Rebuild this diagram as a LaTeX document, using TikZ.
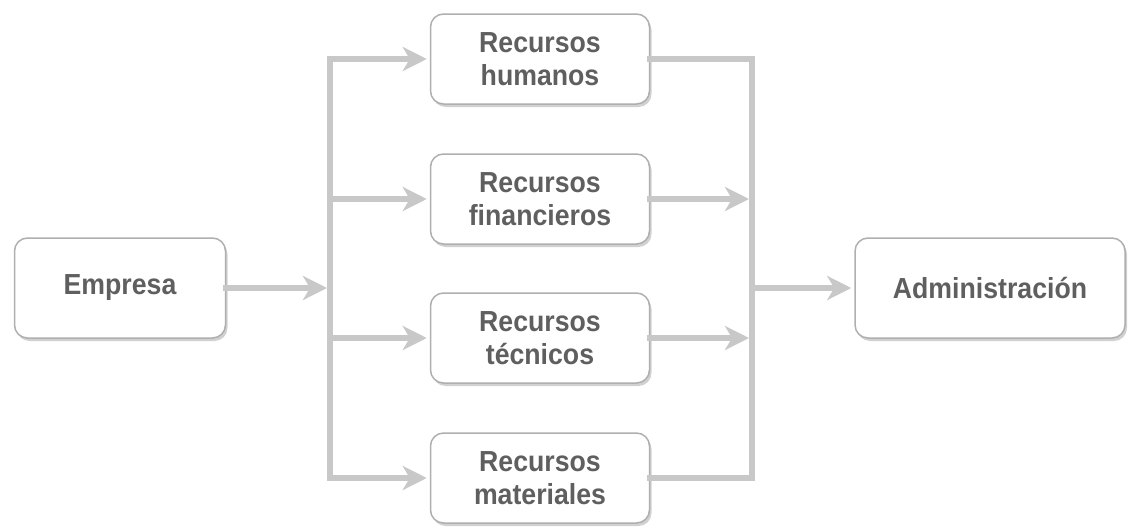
\documentclass[tikz,border=0pt]{standalone}
\usepackage{fontspec}
\usetikzlibrary{arrows.meta,shadows}
\newfontfamily\lblfont[FakeStretch=0.92]{Liberation Sans}
\definecolor{linegray}{RGB}{200,200,200}
\definecolor{boxgray}{RGB}{175,175,175}
\definecolor{textgray}{RGB}{95,95,95}
\tikzset{
  rbox/.style = {rectangle, rounded corners=13pt, draw=boxgray, line width=1.5pt, fill=white,
                 align=center, inner sep=0pt, text=textgray,
                 font=\lblfont\bfseries\fontsize{29}{33}\selectfont,
                 drop shadow={shadow xshift=2pt, shadow yshift=-3pt, opacity=0.18, fill=black}},
  resbox/.style = {rbox, minimum width=219pt, minimum height=90pt},
  bigbox/.style = {rbox, minimum height=100pt},
  conn/.style = {draw=linegray, line width=6pt, line join=miter, line cap=rect},
  arr/.style = {conn, -{Stealth[length=24pt, width=24pt, inset=7pt, line cap=butt]}, shorten >=3pt},
}
\begin{document}
\begin{tikzpicture}[x=1pt, y=-1pt]
\useasboundingbox (0,0) rectangle (1134,530);
% bus lines
\coordinate (lx) at (330,0);
\coordinate (rx) at (752,0);
% boxes
\node [bigbox, minimum width=211pt] (emp) at (120,288) {Empresa};
\node [resbox] (hum) at (540,59)  {Recursos\\humanos};
\node [resbox] (fin) at (540,199) {Recursos\\financieros};
\node [resbox] (tec) at (540,338) {Recursos\\t\'ecnicos};
\node [resbox] (mat) at (540,478) {Recursos\\materiales};
\node [bigbox, minimum width=270pt] (adm) at (990,288) {Administraci\'on};
% left side
\draw [arr] (emp.east) -- (emp.east -| lx);
\draw [arr] (mat.west -| lx) -- (hum.west -| lx) -- (hum.west);
\draw [arr] (fin.west -| lx) -- (fin.west);
\draw [arr] (tec.west -| lx) -- (tec.west);
\draw [arr] (mat.west -| lx) -- (mat.west);
% right side
\draw [conn] (hum.east) -- (hum.east -| rx) -- (mat.east -| rx) -- (mat.east);
\draw [arr] (fin.east) -- (fin.east -| rx);
\draw [arr] (tec.east) -- (tec.east -| rx);
\draw [arr] (adm.west -| rx) -- (adm.west);
\end{tikzpicture}
\end{document}
